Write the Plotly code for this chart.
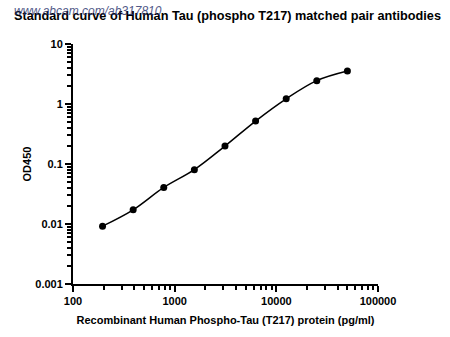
import plotly.graph_objects as go

# Standard curve data: concentration (pg/ml) vs OD450
conc = [195.3, 390.6, 781.25, 1562.5, 3125, 6250, 12500, 25000, 50000]
od450 = [0.0092, 0.0172, 0.0406, 0.0805, 0.199, 0.52, 1.22, 2.45, 3.54]

x_ticks = [100, 1000, 10000, 100000]
x_tick_text = ["100", "1000", "10000", "100000"]
y_ticks = [0.001, 0.01, 0.1, 1, 10]
y_tick_text = ["0.001", "0.01", "0.1", "1", "10"]

x_minor = [m * 10 ** e for e in range(2, 5) for m in range(2, 10)]
y_minor = [m * 10.0 ** e for e in range(-3, 1) for m in range(2, 10)]

font_family = "Liberation Sans, Arial, sans-serif"

fig = go.Figure()
fig.add_trace(go.Scatter(
    x=conc, y=od450,
    mode="lines+markers",
    line=dict(color="black", width=1.5, shape="spline", smoothing=1.0),
    marker=dict(color="black", size=7),
    showlegend=False,
))

axis_common = dict(
    type="log",
    showgrid=False,
    zeroline=False,
    showline=True,
    linecolor="black",
    linewidth=2,
    ticks="outside",
    tickcolor="black",
    tickwidth=2,
    ticklen=6,
    tickmode="array",
    tickfont=dict(family=font_family, size=11, color="black", weight="bold"),
)

fig.update_xaxes(
    **axis_common,
    range=[2, 5],
    tickvals=x_ticks,
    ticktext=x_tick_text,
    minor=dict(tickmode="array", tickvals=x_minor, ticks="outside",
               ticklen=4, tickwidth=2, tickcolor="black"),
    title=dict(text="<b>Recombinant Human Phospho-Tau (T217) protein (pg/ml)</b>",
               font=dict(family=font_family, size=11, color="black"),
               standoff=10),
)
fig.update_yaxes(
    **axis_common,
    range=[-3, 1],
    tickvals=y_ticks,
    ticktext=y_tick_text,
    minor=dict(tickmode="array", tickvals=y_minor, ticks="outside",
               ticklen=4, tickwidth=2, tickcolor="black"),
    title=dict(text="<b>OD450</b>",
               font=dict(family=font_family, size=11, color="black"),
               standoff=1),
)

fig.update_layout(
    width=450, height=337,
    margin=dict(l=73, r=72, t=44, b=51),
    paper_bgcolor="white",
    plot_bgcolor="white",
    font=dict(family=font_family, color="black"),
)

# Title with overlapping site watermark
fig.add_annotation(
    xref="paper", yref="paper", x=-0.20, y=1.0, yshift=28,
    xanchor="left", yanchor="middle",
    text="<b>Standard curve of Human Tau (phospho T217) matched pair antibodies</b>",
    showarrow=False,
    font=dict(family=font_family, size=12.7, color="black"),
)
fig.add_annotation(
    xref="paper", yref="paper", x=-0.20, y=1.0, yshift=33,
    xanchor="left", yanchor="middle",
    text="<i>www.abcam.com/ab317810</i>",
    showarrow=False,
    font=dict(family=font_family, size=12, color="#26306b"),
    opacity=0.8,
)

fig.write_html("out.html")
